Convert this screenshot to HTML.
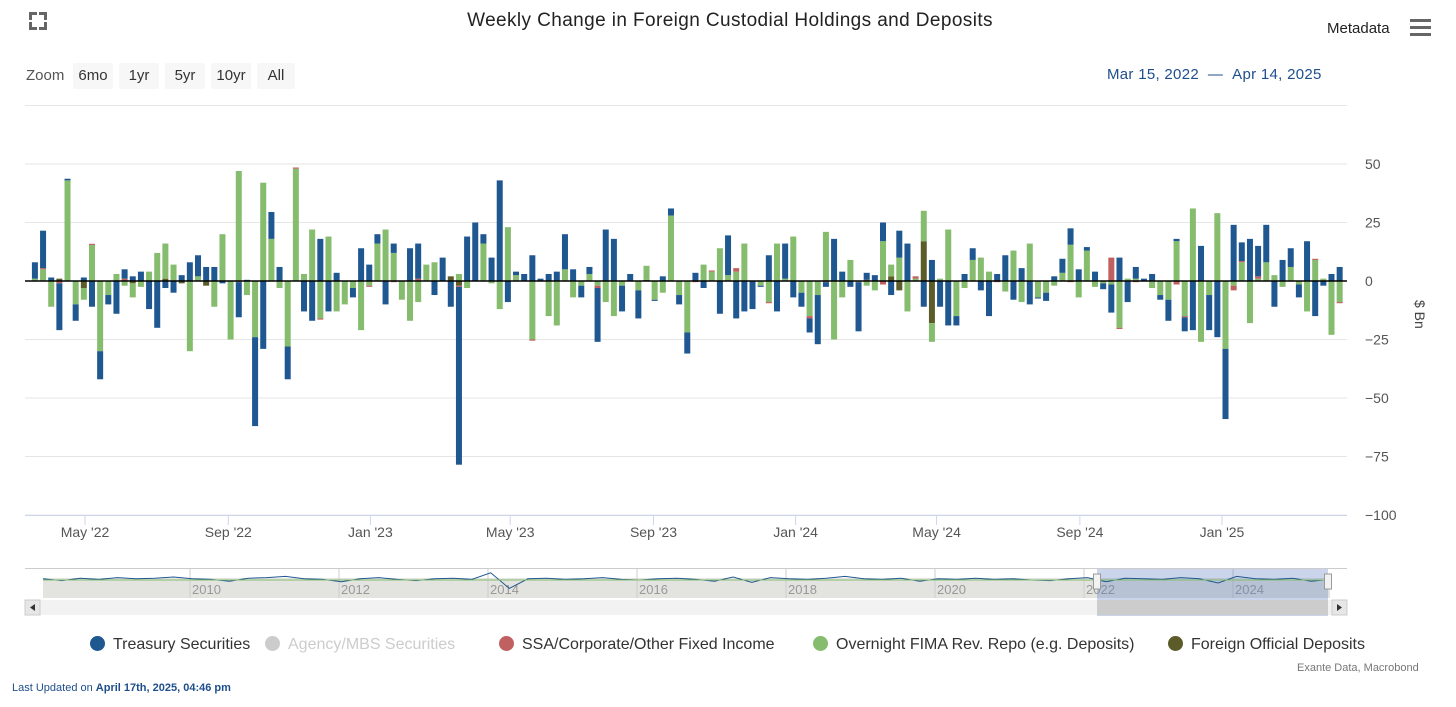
<!DOCTYPE html>
<html><head><meta charset="utf-8">
<style>
body{margin:0;background:#fff;font-family:"Liberation Sans","DejaVu Sans",sans-serif;}
#wrap{position:relative;width:1456px;height:707px;overflow:hidden;}
.t{position:absolute;white-space:nowrap;}
.zb{position:absolute;top:63px;height:26px;line-height:26px;background:#f7f7f7;font-size:15px;color:#333;text-align:center;border-radius:2px}
</style></head>
<body>
<div id="wrap">
<svg id="svg" width="1456" height="707" style="position:absolute;left:0;top:0"></svg>
<div class="t" style="left:29px;top:12px;width:18px;height:18px;">
 <div style="position:absolute;left:0;top:0;width:5px;height:5px;border-left:3px solid #666;border-top:3px solid #666"></div>
 <div style="position:absolute;right:0;top:0;width:5px;height:5px;border-right:3px solid #666;border-top:3px solid #666"></div>
 <div style="position:absolute;left:0;bottom:0;width:5px;height:5px;border-left:3px solid #666;border-bottom:3px solid #666"></div>
 <div style="position:absolute;right:0;bottom:0;width:5px;height:5px;border-right:3px solid #666;border-bottom:3px solid #666"></div>
</div>
<div class="t" style="left:0;width:1460px;text-align:center;top:10px;font-size:19px;color:#222;letter-spacing:0.4px">Weekly Change in Foreign Custodial Holdings and Deposits</div>
<div class="t" style="left:1327px;top:20px;font-size:15px;color:#222">Metadata</div>
<div class="t" style="left:1410px;top:19px;width:21px;">
 <div style="height:3px;background:#666;margin-bottom:4px"></div><div style="height:3px;background:#666;margin-bottom:4px"></div><div style="height:3px;background:#666"></div>
</div>
<div class="t" style="left:26px;top:67px;font-size:15px;color:#555">Zoom</div>
<div class="zb" style="left:73px;width:40px">6mo</div>
<div class="zb" style="left:119px;width:40px">1yr</div>
<div class="zb" style="left:165px;width:40px">5yr</div>
<div class="zb" style="left:211px;width:40px">10yr</div>
<div class="zb" style="left:257px;width:38px">All</div>
<div class="t" style="left:1107px;top:66px;font-size:15px;color:#1f4e8c;letter-spacing:0.3px">Mar 15, 2022 &nbsp;— &nbsp;Apr 14, 2025</div>
<div class="t" style="top:300px;font-size:14px;color:#444;transform:rotate(90deg);transform-origin:left top;left:1428px;">$ Bn</div>
<div class="t" style="left:1297px;top:662px;font-size:11px;color:#777">Exante Data, Macrobond</div>
<div class="t" style="left:12px;top:682px;font-size:11px;color:#1f4e8c">Last Updated on <b>April 17th, 2025, 04:46 pm</b></div>
<div id="legend" class="t" style="left:0;top:636px;width:1456px;height:20px;font-size:16px;"></div>
</div>
<script>
// weekly values (Bn), first week 2022-03-19, step 7 days
const treasury=[7,16,1.5,-20,0.7,-7,1.5,-11,-12,-4,-14,4,2,4,-12,-20,-3,-5,2.5,8,9,6,6,-1,0,-15,0.5,-38,-29,11.5,6,-14,0,-13,-17,18,-13,3.5,0,-4,14,
7,4,-10,4,0,14,15,0,-6,10,-11,-76,19,25,4,10,43,-9,1.5,3,11,1,3,4,15,5,-5,3,-23,22,18,-11,3,-12,0,-0.5,2,3,-4,-9,
3.5,-3,0,-14,17,-16,-13,-12,-0.5,11,-13,15,-7,-6,-6,-21,-2,18,4,-2.5,-21,3,2.5,8,-6,11.5,16,0,-11,9,-11,-19,-4,3,5,-4,-15,3,11,-8,5.5,
-10,-0.5,-3.5,2,6,7,5,1.5,4,-2.5,-12,10,-9,5,1,3,-2,-9,1,-6,-21,15,-15,-24,-30,24,8,18,13,16,-11,9,8,-5.5,17,-15,-2,3,6];
const fima=[1,5,-11,0,43,-10,-5,15.4,-30,-6,3,-2,-6,-2.5,4,12,15,7,0,-30,2,0,-11,20,-25,47,-6,-24,42,18,-3,-28,48,3,22,-16,19,-13,-10,-3,-21,
-2,16,22,12,-8,-17,-9,7,8,0,0,3,-3,0,16,-1,-12,23,2.5,0,-25,0,-15,-19,5,-7,-2,3,-2,-9,-15,-2,0,-4,6,-8,-5,28,-6,-22,
0,7,4,14,2.5,4,16,0,-2,-9,16,1,19,-5,-15,-6,21,-25,-7,9,-0.5,-2,-4,17,5,10,-13,1,13,-8,1,22,-15,-3,9,10,4,0,-4.5,13,-9,
16,-7,-5,-2,3.5,15.5,-7,13,-2.5,-1,-1.5,-20,1,1,0,-3,-6,-8,17,-15,31,-26,-6,29,-29,-2,8,-18,1,8,2.5,-2.5,6,-1.5,-13,9,1,-23,-9];
const ssa=[0,0.5,0,-1,0,0,0,0.5,0,0,0,1,0,0,0,0,0,0,0,0,0,0,0,0,0,-0.5,0,0,0,0,0,0,0.5,0,0,-0.5,0,0,0,0,0,
-0.5,0,0,-0.5,0,0,1,0,0,0,0,-0.5,0,0,0,0,0,0,0,0,-0.5,0,0,0,0,0,0,0,-1,0,0,0,0,0,0,0,0,0,0,0,
-0.5,0,0.5,0,0,1.5,0,0,0,-0.5,0,0,0,0,-1,0,-0.5,0,0,0,0,0.5,0,-1.5,0,0,0,1,0,0,0,0,0,0,0,0,0,-0.5,0,0,0,
0,0,0,0,0,-0.5,0,0,0,0,10,-0.5,0,-0.5,0,0,0,0,-1.5,-0.5,0,0,0,0,0,-2,0.5,0,1,0,0,0,0,0,0,0.5,0,0,-0.5];
const fod=[0,0,0,1,0,0,-3,0,0,0,0,0,-1,0,0,0,1,0,-1,0,0,-2,0,0,0,0,0,0,0,0,0,0,0,0,0,0,0,0,0,0,0,
0,0,0,0,0,0,0,0,0,0,2,-2,0,0,0,0,0,0,0,0,0,0,0,0,0,0,0,0,0,0,0,0,0,0,0.5,0,0,0,0,0,
0,0,0,0,0,0,0,0,0,0,0,0,0,0,0,0,0,0,0,0,0,0,0,0,2,-4,0,0,17,-18,0,0,0,0,0,0,0,0,0,0,0,
0,0,0,0,0,0,0,0,0,0,0,0,0,0,0,0,0,0,0,0,0,0,0,0,0,0,0,0,0,0,0,0,0,0,0,0,0,0,0];
const agency=treasury.map(()=>0);
const yTicks=[50,25,0,-25,-50,-75,-100];
const xTickLabels=["May '22","Sep '22","Jan '23","May '23","Sep '23","Jan '24","May '24","Sep '24","Jan '25"];
const xTickDates=["2022-05-01","2022-09-01","2023-01-01","2023-05-01","2023-09-01","2024-01-01","2024-05-01","2024-09-01","2025-01-01"];
const navYears=["2010","2012","2014","2016","2018","2020","2022","2024"];
const navValues=[2,-1,3,1,4,2,3,5,2,1,-2,3,4,6,2,1,-3,2,4,1,-1,2,3,1,12,-14,2,3,1,2,4,1,0,2,3,1,-2,5,-4,4,2,1,3,6,2,1,3,-2,2,1,3,1,2,0,-1,2,4,-3,3,2,1,4,2,-5,6,2,1,3,-2,1];

const NS='http://www.w3.org/2000/svg';
const svg=document.getElementById('svg');
function mk(tag,attrs){const e=document.createElementNS(NS,tag);for(const k in attrs)e.setAttribute(k,attrs[k]);svg.appendChild(e);return e;}
const DAY=86400000;
const d0=Date.UTC(2022,4,1), x0=85, pxDay=(1222-85)/976;
function xDate(ms){return x0+(ms-d0)/DAY*pxDay;}
function yVal(v){return 281-v*2.34;}
const start=Date.UTC(2022,2,19);
[75,...yTicks].forEach(v=>{if(v===0)return;const l=mk('line',{x1:25,x2:1347,y1:yVal(v),y2:yVal(v),stroke:'#e6e6e6','stroke-width':1});
});
yTicks.forEach(v=>{const t=mk('text',{x:1365,y:yVal(v)+5,'font-size':14,fill:'#555','font-family':'Liberation Sans, sans-serif'});
t.textContent=v<0?'−'+(-v):String(v);
});
const ax=mk('line',{x1:25,x2:1347,y1:515.5,y2:515.5,stroke:'#ccd6eb'});

xTickDates.forEach((d,i)=>{const p=d.split('-').map(Number);const x=xDate(Date.UTC(p[0],p[1]-1,p[2]));
const tk=mk('line',{x1:x,x2:x,y1:515,y2:525,stroke:'#ccd6eb'});
const t=mk('text',{x:x,y:537,'font-size':14,fill:'#555','text-anchor':'middle','font-family':'Liberation Sans, sans-serif'});t.textContent=xTickLabels[i];
});
const series=[[fod,'#5c5c2a','fod'],[fima,'#86bc6d','fima'],[ssa,'#c06060','ssa'],[agency,'#cccccc','agency'],[treasury,'#1f5791','treasury']];
const bw=6;
for(let i=0;i<treasury.length;i++){
 const x=xDate(start+i*7*DAY)-bw/2;let pos=0,neg=0;
 series.forEach(([arr,col,nm])=>{const v=arr[i];if(!v)return;let a,b;
  if(v>0){a=pos;b=pos+v;pos=b;}else{a=neg;b=neg+v;neg=b;}
  const y1=yVal(Math.max(a,b)),y2=yVal(Math.min(a,b));
  const r=mk('rect',{x:x,y:y1,width:bw,height:Math.max(0.8,y2-y1),fill:col});
  });
}
const zl=mk('line',{x1:25,x2:1347,y1:281,y2:281,stroke:'#000','stroke-width':1.5});

const nb=mk('rect',{x:43,y:578,width:1287,height:20,fill:'#e3e3df'});
const nt=mk('line',{x1:25,x2:1347,y1:568.5,y2:568.5,stroke:'#ccc'});
navYears.forEach((y,i)=>{const x=190+i*149;
 const g=mk('line',{x1:x,x2:x,y1:569,y2:598,stroke:'#ccc'});
 const t=mk('text',{x:x+2,y:594,'font-size':13,fill:'#999','font-family':'Liberation Sans, sans-serif'});t.textContent=y;
 });
const sel=mk('rect',{x:1097,y:569,width:231,height:47,fill:'rgba(102,133,194,0.35)'});
let pts=navValues.map((v,i)=>(43+i*1287/(navValues.length-1)).toFixed(1)+','+(580-v*0.6).toFixed(1)).join(' ');
const pl=mk('polyline',{points:pts,fill:'none',stroke:'#1f5791','stroke-width':1});
const gl=mk('line',{x1:43,x2:1330,y1:580,y2:580,stroke:'#86bc6d','stroke-width':1});
[1097,1328].forEach(x=>{const h=mk('rect',{x:x-3.5,y:574,width:7,height:15,fill:'#f2f2f2',stroke:'#999'});});
const sb=mk('rect',{x:25,y:600,width:1322,height:15,fill:'#f2f2f2'});
const th=mk('rect',{x:1097,y:600,width:231,height:15,fill:'#ccc'});
const lb=mk('rect',{x:25,y:600,width:15,height:15,fill:'#e6e6e6',stroke:'#ccc'});
const rb=mk('rect',{x:1332,y:600,width:15,height:15,fill:'#e6e6e6',stroke:'#ccc'});
mk('path',{d:'M35,604 L30,607.5 L35,611 Z',fill:'#333'});
mk('path',{d:'M1337,604 L1342,607.5 L1337,611 Z',fill:'#333'});
const legNames=["Treasury Securities","Agency/MBS Securities","SSA/Corporate/Other Fixed Income","Overnight FIMA Rev. Repo (e.g. Deposits)","Foreign Official Deposits"];
const legCols=['#1f5791','#ccc','#c06060','#86bc6d','#5c5c2a'];
const legX=[90,265,499,813,1168];
const leg=document.getElementById('legend');
legNames.forEach((n,i)=>{const d=document.createElement('div');


d.style.cssText='position:absolute;top:0;left:'+legX[i]+'px;color:'+(i===1?'#ccc':'#333')+';white-space:nowrap';
d.innerHTML='<span style="display:inline-block;width:15px;height:15px;border-radius:50%;background:'+legCols[i]+';vertical-align:-2px;margin-right:8px"></span>'+n;
leg.appendChild(d);});
</script>
</body></html>
